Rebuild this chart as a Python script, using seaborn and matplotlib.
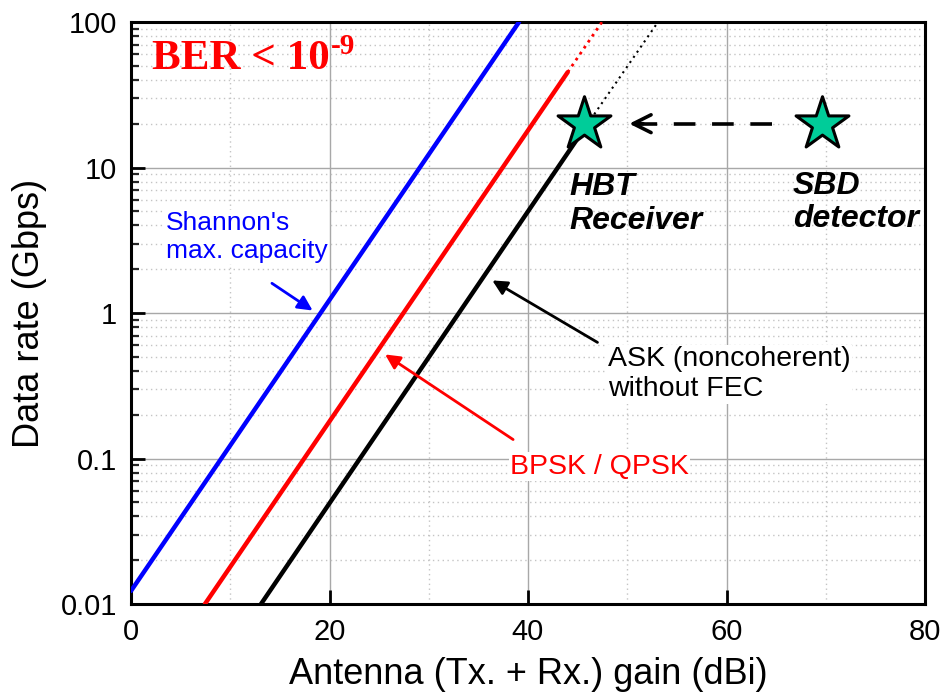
import numpy as np
import pandas as pd
import matplotlib
matplotlib.use('Agg')
import matplotlib.pyplot as plt
import seaborn as sns
from matplotlib.ticker import LogLocator, FixedLocator, FixedFormatter, NullFormatter

# ---- data ----
gain_shannon = [0.0, 39.1]
rate_shannon = [0.0123, 100.0]
gain_psk = [7.45, 44.0]
rate_psk = [0.01, 45.2]
gain_psk_ext = [44.0, 47.45]
rate_psk_ext = [45.2, 100.0]
gain_ask = [13.1, 45.6]
rate_ask = [0.01, 18.2]
gain_ask_ext = [45.6, 53.1]
rate_ask_ext = [18.2, 100.0]
star_gain = [45.6, 69.6]
star_rate = [20.0, 20.0]
x_ticks = [0, 20, 40, 60, 80]
y_ticks = [0.01, 0.1, 1, 10, 100]
y_ticklabels = ['0.01', '0.1', '1', '10', '100']

sns.set_theme(style='white')
plt.rcParams['font.family'] = ['Liberation Sans', 'DejaVu Sans']

fig = plt.figure(figsize=(9.4, 6.94), dpi=100)
ax = fig.add_axes([131/940, 90/694, 794/940, 582/694])
ax.set_yscale('log')
ax.set_xlim(0, 80)
ax.set_ylim(0.01, 100)

# grid
ax.set_xticks(x_ticks)
ax.xaxis.set_minor_locator(FixedLocator([10, 30, 50, 70]))
ax.yaxis.set_major_locator(FixedLocator(y_ticks))
ax.yaxis.set_major_formatter(FixedFormatter(y_ticklabels))
ax.yaxis.set_minor_locator(LogLocator(base=10, subs=np.arange(2, 10)))
ax.yaxis.set_minor_formatter(NullFormatter())
ax.grid(which='major', color='#a8a8a8', lw=1.0, ls='-', zorder=0)
ax.grid(which='minor', color='#c4c4c4', lw=1.0, ls=(0, (1, 2.5)), zorder=0)
ax.set_axisbelow(True)

# main solid lines
df = pd.DataFrame({
    'gain': gain_shannon + gain_psk + gain_ask,
    'rate': rate_shannon + rate_psk + rate_ask,
    'series': ['Shannon'] * 2 + ['PSK'] * 2 + ['ASK'] * 2,
})
sns.lineplot(data=df, x='gain', y='rate', hue='series',
             palette={'Shannon': '#0000ff', 'PSK': '#ff0000', 'ASK': '#000000'},
             lw=3.2, legend=False, estimator=None, sort=False, ax=ax, zorder=3)
# dotted extensions
sns.lineplot(x=gain_psk_ext, y=rate_psk_ext, color='#ff0000', lw=2.0,
             linestyle=(0, (1, 1.6)), estimator=None, ax=ax, zorder=3)
sns.lineplot(x=gain_ask_ext, y=rate_ask_ext, color='#000000', lw=1.5,
             linestyle=(0, (1, 2)), estimator=None, ax=ax, zorder=3)

# dashed arrow from SBD to HBT
ax.plot([64.6, 50.6], [20, 20], color='black', lw=2.6, ls=(0, (6, 4.6)), zorder=3)
ax.annotate('', xy=(50.2, 20), xytext=(51.6, 20),
            arrowprops=dict(arrowstyle='->', lw=2.6, color='black',
                            mutation_scale=32, shrinkA=0, shrinkB=0), zorder=3)

# stars
sns.scatterplot(x=star_gain, y=star_rate, marker='*', s=40**2, color='#00cc99',
                edgecolor='black', linewidth=2.2, ax=ax, zorder=5, legend=False)

# BER label with superscript
ber = ax.text(2.1, 47.4, 'BER < 10', color='#ff0000', fontsize=31,
              family=['Liberation Serif'], fontweight='bold', va='baseline',
              ha='left', zorder=6)
ax.annotate('-9', xy=(1.0, 1.0), xycoords=ber, xytext=(1, 5),
            textcoords='offset points', color='#ff0000', fontsize=21,
            family=['Liberation Serif'], fontweight='bold', va='top', ha='left',
            zorder=6)

box = dict(facecolor='white', edgecolor='none', pad=1)
ax.text(3.5, 5.0, "Shannon's\nmax. capacity", color='#0000ff', fontsize=19,
        va='top', ha='left', bbox=box, zorder=4, linespacing=1.2)
ax.annotate('', xy=(18.3, 1.04), xytext=(14.2, 1.6),
            arrowprops=dict(arrowstyle='-|>', lw=2, color='#0000ff',
                            mutation_scale=22, shrinkA=0, shrinkB=0), zorder=4)

ax.text(48.1, 0.589, 'ASK (noncoherent)\nwithout FEC', color='black', fontsize=20.5,
        va='top', ha='left', bbox=box, zorder=4, linespacing=1.2)
ax.annotate('', xy=(36.4, 1.675), xytext=(47.0, 0.628),
            arrowprops=dict(arrowstyle='-|>', lw=2, color='black',
                            mutation_scale=22, shrinkA=0, shrinkB=0), zorder=4)

ax.text(38.2, 0.108, 'BPSK / QPSK', color='#ff0000', fontsize=20.5,
        va='top', ha='left', bbox=box, zorder=4)
ax.annotate('', xy=(25.6, 0.519), xytext=(38.5, 0.135),
            arrowprops=dict(arrowstyle='-|>', lw=2, color='#ff0000',
                            mutation_scale=22, shrinkA=0, shrinkB=0), zorder=4)

ax.text(44.2, 9.3, 'HBT\nReceiver', color='black', fontsize=23, fontweight='bold',
        fontstyle='italic', va='top', ha='left', linespacing=1.15, zorder=6)
ax.text(66.7, 9.5, 'SBD\ndetector', color='black', fontsize=23, fontweight='bold',
        fontstyle='italic', va='top', ha='left', linespacing=1.15, zorder=6)

# axes styling
for s in ax.spines.values():
    s.set_visible(True)
    s.set_color('black')
    s.set_linewidth(2.2)
ax.tick_params(axis='both', which='major', direction='in', length=10, width=2,
               labelsize=21, pad=10, colors='black', bottom=True, left=True,
               top=False, right=False)
ax.tick_params(axis='y', which='minor', direction='in', length=5.5, width=1.6,
               left=True, right=False)
ax.tick_params(axis='x', which='minor', length=0)
ax.set_xlabel('Antenna (Tx. + Rx.) gain (dBi)', fontsize=26, labelpad=8, color='black')
ax.set_ylabel('Data rate (Gbps)', fontsize=26, labelpad=10, color='black')

fig.savefig('out.png', dpi=100)
